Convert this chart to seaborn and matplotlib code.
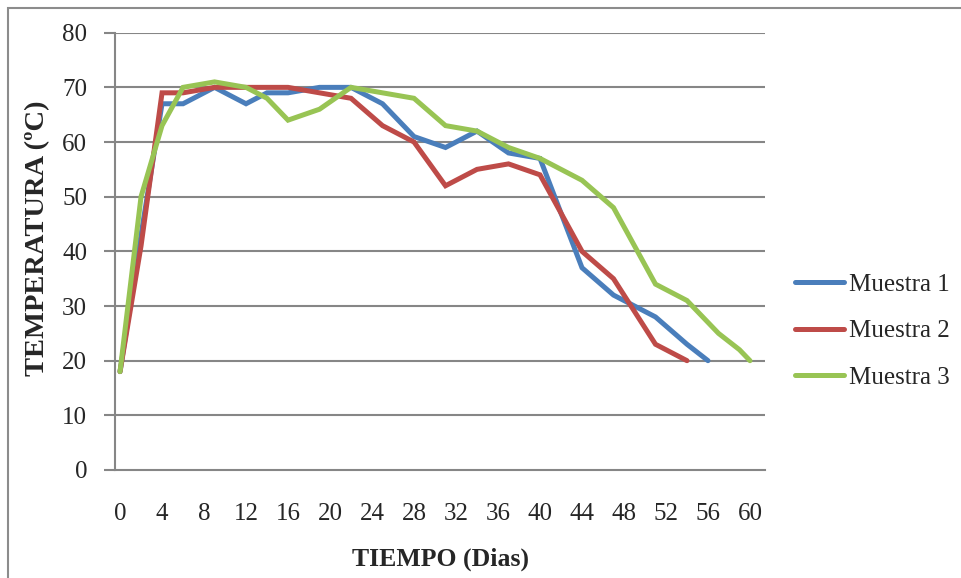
import matplotlib
matplotlib.use("Agg")
import matplotlib.pyplot as plt
from matplotlib.patches import Rectangle
import seaborn as sns
import pandas as pd

# Sampling days and temperatures (ºC) for each compost sample
dias_m1 = [0, 2, 4, 6, 9, 12, 14, 16, 19, 22, 25, 28, 31, 34, 37, 40, 44, 47, 51, 54, 56]
temp_m1 = [18, 43, 67, 67, 70, 67, 69, 69, 70, 70, 67, 61, 59, 62, 58, 57, 37, 32, 28, 23, 20]

dias_m2 = [0, 2, 4, 6, 9, 12, 14, 16, 19, 22, 25, 28, 31, 34, 37, 40, 44, 47, 51, 54]
temp_m2 = [18, 41, 69, 69, 70, 70, 70, 70, 69, 68, 63, 60, 52, 55, 56, 54, 40, 35, 23, 20]

dias_m3 = [0, 2, 4, 6, 9, 12, 14, 16, 19, 22, 25, 28, 31, 34, 37, 40, 44, 47, 51, 54, 57, 59, 60]
temp_m3 = [18, 50, 63, 70, 71, 70, 68, 64, 66, 70, 69, 68, 63, 62, 59, 57, 53, 48, 34, 31, 25, 22, 20]

series = ["Muestra 1", "Muestra 2", "Muestra 3"]
colors = ["#4A7EBB", "#BE4B48", "#98C454"]

x_ticks = list(range(0, 61, 4))
y_ticks = list(range(0, 81, 10))

df = pd.concat([
    pd.DataFrame({"dia": dias_m1, "temp": temp_m1, "serie": series[0]}),
    pd.DataFrame({"dia": dias_m2, "temp": temp_m2, "serie": series[1]}),
    pd.DataFrame({"dia": dias_m3, "temp": temp_m3, "serie": series[2]}),
], ignore_index=True)

sns.set_style("white")
plt.rcParams["font.family"] = ["Liberation Serif", "DejaVu Serif"]

W, H = 961, 578
fig = plt.figure(figsize=(W / 100, H / 100), dpi=100)
ax = fig.add_axes([115 / W, 1 - 470 / H, (765 - 115) / W, (470 - 32.7) / H])

grid_col = "#868686"
for yv in y_ticks[1:]:
    ax.axhline(yv, color=grid_col, lw=1.5, zorder=0)

sns.lineplot(data=df, x="dia", y="temp", hue="serie", hue_order=series,
             palette=colors, linewidth=3.6, sort=False, estimator=None,
             ax=ax, legend=True, solid_capstyle="round", solid_joinstyle="miter")

ax.set_xlim(-0.48, 61.43)
ax.set_ylim(0, 80)
ax.set_xticks(x_ticks)
ax.set_yticks(y_ticks)
ax.tick_params(axis="x", length=0, pad=24, labelsize=18)
ax.tick_params(axis="y", length=8, width=1.5, color=grid_col, pad=12, labelsize=18, left=True)

for side in ["top", "right"]:
    ax.spines[side].set_visible(False)
for side in ["left", "bottom"]:
    ax.spines[side].set_color(grid_col)
    ax.spines[side].set_linewidth(1.5)

ax.set_xlabel("TIEMPO (Dias)", fontsize=18.5, fontweight="bold", labelpad=16)
ax.set_ylabel("TEMPERATURA (ºC)", fontsize=20.5, fontweight="bold")
ax.yaxis.set_label_coords(-0.1, 0.53)

handles, labels = ax.get_legend_handles_labels()
ax.legend(handles, labels, loc="center left", bbox_to_anchor=(785 / W, 1 - 331 / H),
          bbox_transform=fig.transFigure, frameon=False, fontsize=18,
          handlelength=1.95, handletextpad=0.2, labelspacing=0.95, borderaxespad=0)

# Outer chart frame (partly cut at the right and bottom edges)
fig.patches.append(Rectangle((8 / W, -0.1), 1.2, 1.1 - 8 / H, transform=fig.transFigure,
                             fill=False, edgecolor="#8C8C8C", linewidth=1.5))

fig.savefig("out.png", dpi=100)
